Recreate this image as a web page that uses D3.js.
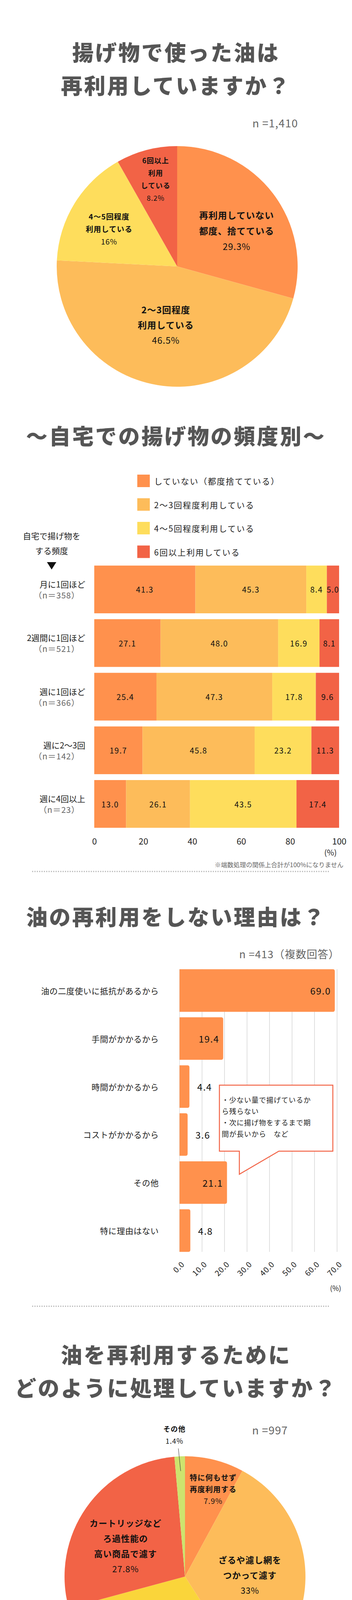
<!DOCTYPE html>
<html><head><meta charset="utf-8">
<script src="https://cdn.jsdelivr.net/npm/d3@7"></script>
<style>body{margin:0;background:#fff}svg{display:block;font-family:"Noto Sans CJK JP","Noto Sans",sans-serif}</style>
</head><body><svg id="c1" width="900" height="4400"></svg><svg id="c2" width="900" height="3600"></svg>
<script>
// ---- data ----
const pie1Labels = [["再利用していない","都度、捨てている"],["2～3回程度","利用している"],["4～5回程度","利用している"],["6回以上","利用","している"]];
const pie1Values = [29.3, 46.5, 16, 8.2];
const pie1Pct = ["29.3%","46.5%","16%","8.2%"];

const freqCats = ["月に1回ほど","2週間に1回ほど","週に1回ほど","週に2～3回","週に4回以上"];
const freqN = ["（n＝358）","（n＝521）","（n＝366）","（n＝142）","（n＝23）"];
const freqSeries = ["していない（都度捨てている）","2～3回程度利用している","4～5回程度利用している","6回以上利用している"];
const freqNone = [41.3, 27.1, 25.4, 19.7, 13.0];
const freq23 = [45.3, 48.0, 47.3, 45.8, 26.1];
const freq45 = [8.4, 16.9, 17.8, 23.2, 43.5];
const freq6 = [5.0, 8.1, 9.6, 11.3, 17.4];
const freqTicks = [0,20,40,60,80,100];

const reasonCats = ["油の二度使いに抵抗があるから","手間がかかるから","時間がかかるから","コストがかかるから","その他","特に理由はない"];
const reasonVals = [69.0, 19.4, 4.4, 3.6, 21.1, 4.8];
const reasonTicks = [0,10,20,30,40,50,60,70];
const reasonNote = ["・少ない量で揚げているか","ら残らない","・次に揚げ物をするまで期","間が長いから　など"];

const pie2Labels = [["特に何もせず","再度利用する"],["ざるや濾し網を","つかって濾す"],["キッチンペーパーや","油こし紙を使って濾す"],["カートリッジなど","ろ過性能の","高い商品で濾す"],["その他"]];
const pie2Values = [7.9, 33, 29.9, 27.8, 1.4];
const pie2Pct = ["7.9%","33%","29.9%","27.8%","1.4%"];

const pie3Labels = [["とても","時間が","かかっている"],["まぁまぁ時間が","かかっている"],["あまり時間が","かかっていない"],["まったく時間が","かかっていない"]];
const pie3Values = [9, 60.6, 26.7, 3.6];
const pie3Pct = ["9%","60.6%","26.7%","3.6%"];

const dissCats = ["油の酸化が気になる","油の濁りや汚れが気になる","油の臭いが気になる","油を濾す手間がかかる","油を濾す時間がかかる","油を濾すコストがかかる","特にない","その他"];
const dissVals = [73.0, 55.9, 38.8, 22.7, 14.1, 10.9, 7.6, 1.4];
const dissTicks = [0,20,40,60,80];

const troubleCats = ["キッチンが油で汚れること","揚げ物をした後の油の処理が面倒","揚げ物の臭いが気になること","食用油が値上がりしていること","揚げる手間が面倒","特にない","その他"];
const troubleVals = [81.0, 48.4, 45.0, 43.2, 22.6, 3.2, 2.3];
const troubleTicks = [0,20,40,60,80,100];

// ---- styles ----
const ORANGE="#FF914D", LORANGE="#FDBC5A", YELLOW="#FEDD5C", YELLOW2="#FAD53A", RED="#F26346", GREEN="#CDE36E";
let svg = d3.select("#c1").append("g");

function title(lines, ys){
  lines.forEach((t,i)=>svg.append("text").attr("x",450).attr("y",ys[i]).attr("text-anchor","middle")
    .attr("dominant-baseline","central").attr("font-size",55).attr("font-weight",900)
    .attr("letter-spacing",4).attr("fill","#555").text(t));
}
function nText(t, x, y, size){
  svg.append("text").attr("x",x).attr("y",y).attr("text-anchor","end").attr("dominant-baseline","central")
    .attr("font-size",size||27).attr("fill","#666").attr("letter-spacing",1).text(t);
}
function dotted(y){
  svg.append("line").attr("x1",82).attr("x2",842).attr("y1",y).attr("y2",y)
    .attr("stroke","#bbb").attr("stroke-width",3).attr("stroke-dasharray","3 3");
}
function multi(x,y,lines,pct,size,lh){
  const g = svg.append("g");
  lines.forEach((t,i)=>g.append("text").attr("x",x).attr("y",y+i*lh).attr("text-anchor","middle")
    .attr("dominant-baseline","central").attr("font-size",size).attr("font-weight",700).attr("letter-spacing",1).attr("fill","#111").text(t));
  g.append("text").attr("x",x).attr("y",y+lines.length*lh).attr("text-anchor","middle")
    .attr("dominant-baseline","central").attr("font-size",size).attr("fill","#111").attr("letter-spacing",1).text(pct);
}
function drawPie(cx,cy,r,vals,colors){
  const arcs = d3.pie().sort(null)(vals);
  const arc = d3.arc().innerRadius(0).outerRadius(r);
  svg.append("g").attr("transform",`translate(${cx},${cy})`).selectAll("path").data(arcs).join("path")
    .attr("d",arc).attr("fill",(d,i)=>colors[i]);
}
function hbars(cats,vals,x,y,labelX,fs,thr,outOff){
  cats.forEach((c,i)=>{
    const v=vals[i], x0=x(0), x1=x(v), by=y(c), h=y.bandwidth(), r=5;
    svg.append("path").attr("d",`M${x0},${by} H${x1-r} Q${x1},${by} ${x1},${by+r} V${by+h-r} Q${x1},${by+h} ${x1-r},${by+h} H${x0} Z`).attr("fill",ORANGE);
    const inside=v>=thr;
    svg.append("text").attr("x",inside?x1-10:x1+outOff).attr("y",by+h/2).attr("text-anchor",inside?"end":"start")
      .attr("dominant-baseline","central").attr("font-size",fs).attr("letter-spacing",1.5).attr("fill","#111").text(v.toFixed(1));
    svg.append("text").attr("x",labelX).attr("y",by+h/2).attr("text-anchor","end").attr("dominant-baseline","central")
      .attr("font-size",21).attr("letter-spacing",0.5).attr("fill","#222").text(c);
  });
}
function rotTicks(scale,ticks,y,fs){
  const g=svg.append("g");
  ticks.forEach(t=>g.append("text").attr("transform",`translate(${scale(t)+8},${y}) rotate(-45)`).attr("text-anchor","end")
    .attr("dominant-baseline","central").attr("font-size",fs).attr("fill","#222").attr("letter-spacing",1).text(t.toFixed(1)));
}

// ===== 1. pie =====
title(["揚げ物で使った油は","再利用していますか？"],[131,216]);
nText("n =1,410",762,314,28);
drawPie(453,682,308,pie1Values,[ORANGE,LORANGE,YELLOW,RED]);
const p1pos=[[605,550,40,23],[424,792,39,23],[279,553,32,19],[398,410,32,18]];
pie1Labels.forEach((l,i)=>multi(p1pos[i][0],p1pos[i][1],l,pie1Pct[i],p1pos[i][3],p1pos[i][2]));

// ===== 2. stacked bars =====
title(["～自宅での揚げ物の頻度別～"],[1113]);
const fColors=[ORANGE,LORANGE,YELLOW,RED];
freqSeries.forEach((s,i)=>{
  const y=1231+i*60.5;
  svg.append("rect").attr("x",351).attr("y",y-16).attr("width",32).attr("height",32).attr("fill",fColors[i]);
  svg.append("text").attr("x",394).attr("y",y).attr("dominant-baseline","central").attr("font-size",21).attr("letter-spacing",2).attr("fill","#222").text(s);
});
svg.append("text").attr("x",132).attr("y",1371).attr("text-anchor","middle").attr("dominant-baseline","central").attr("font-size",21).attr("fill","#222").text("自宅で揚げ物を");
svg.append("text").attr("x",132).attr("y",1409).attr("text-anchor","middle").attr("dominant-baseline","central").attr("font-size",21).attr("fill","#222").text("する頻度");
svg.append("path").attr("d","M120,1439 L144,1439 L132,1458 Z").attr("fill","#111");
const fx=d3.scaleLinear().domain([0,100]).range([241,867]);
const fy=d3.scaleBand().domain(freqCats).range([1441,2126]).paddingInner(0.11).paddingOuter(0.05);
const stackData=freqCats.map((c,i)=>({cat:c,a:freqNone[i],b:freq23[i],c:freq45[i],d:freq6[i]}));
const stack=d3.stack().keys(["a","b","c","d"])(stackData);
stack.forEach((layer,k)=>{
  const g=svg.append("g");
  layer.forEach((d,i)=>{
    const cat=freqCats[i];
    g.append("rect").attr("x",fx(d[0])).attr("y",fy(cat)).attr("width",fx(Math.min(d[1],100))-fx(d[0])).attr("height",fy.bandwidth()).attr("fill",fColors[k]);
    g.append("text").attr("x",(fx(d[0])+fx(d[1]))/2).attr("y",fy(cat)+fy.bandwidth()/2).attr("text-anchor","middle")
      .attr("dominant-baseline","central").attr("font-size",20).attr("letter-spacing",1.5).attr("fill","#111").text((d[1]-d[0]).toFixed(1));
  });
});
freqCats.forEach((c,i)=>{
  const y=fy(c)+fy.bandwidth()/2;
  svg.append("text").attr("x",218).attr("y",y-14).attr("text-anchor","end").attr("dominant-baseline","central").attr("font-size",21).attr("fill","#222").text(c);
  svg.append("text").attr("x",204).attr("y",y+14).attr("text-anchor","end").attr("dominant-baseline","central").attr("font-size",21).attr("fill","#666").attr("letter-spacing",1).text(freqN[i]);
});
const fAxis=svg.append("g").attr("transform","translate(0,2128)").call(d3.axisBottom(fx).tickValues(freqTicks).tickSize(0).tickPadding(18));
fAxis.select(".domain").remove();
fAxis.selectAll("text").attr("font-size",22).attr("fill","#222").attr("font-family","'Noto Sans CJK JP'");
svg.append("text").attr("x",845).attr("y",2181).attr("text-anchor","middle").attr("dominant-baseline","central").attr("font-size",20).attr("fill","#222").text("(%)");
svg.append("text").attr("x",878).attr("y",2213).attr("text-anchor","end").attr("dominant-baseline","central").attr("font-size",16).attr("fill","#666").text("※端数処理の関係上合計が100%になりません");
dotted(2231);

// ===== 3. reasons =====
title(["油の再利用をしない理由は？"],[2344]);
nText("n =413（複数回答）",868,2441,27);
const rx=d3.scaleLinear().domain([0,69]).range([459,856]);
const ry=d3.scaleBand().domain(reasonCats).range([2474,3212]).paddingInner(0.115).paddingOuter(0.06);
const rBot=ry(reasonCats[5])+ry.bandwidth();
svg.append("g").selectAll("line").data(reasonTicks.slice(1)).join("line").attr("x1",d=>rx(d)).attr("x2",d=>rx(d))
  .attr("y1",ry(reasonCats[0])).attr("y2",rBot).attr("stroke","#d6d6d6").attr("stroke-width",1.5);
svg.append("line").attr("x1",rx(0)).attr("x2",rx(0)).attr("y1",ry(reasonCats[0])).attr("y2",rBot).attr("stroke","#ccc");
hbars(reasonCats,reasonVals,rx,ry,406,24,10,20);
rotTicks(rx,reasonTicks,3232,20);
svg.append("text").attr("x",858).attr("y",3297).attr("text-anchor","middle").attr("dominant-baseline","central").attr("font-size",18).attr("fill","#222").text("(%)");
svg.append("path").attr("d","M561,2778 H851 V2947 H713 L612,3006 V2947 H561 Z").attr("fill","#fff").attr("stroke",RED).attr("stroke-width",2.5);
reasonNote.forEach((t,i)=>svg.append("text").attr("x",567).attr("y",2815+i*29).attr("dominant-baseline","central").attr("font-size",18).attr("letter-spacing",1).attr("fill","#222").text(t));
dotted(3344);

// ===== 4. pie 2 =====
title(["油を再利用するために","どのように処理していますか？"],[3465,3550]);
nText("n =997",736,3660,28);
drawPie(473,4036,308,pie2Values,[ORANGE,LORANGE,YELLOW2,RED,GREEN]);
multi(545,3781,pie2Labels[0],pie2Pct[0],19,30);
multi(639,3992,pie2Labels[1],pie2Pct[1],22,39);
multi(391,4154,pie2Labels[2],pie2Pct[2],22,39);
multi(321,3898,pie2Labels[3],pie2Pct[3],22,39);
multi(446,3657,pie2Labels[4],pie2Pct[4],18,31);
svg.append("line").attr("x1",456).attr("y1",3708).attr("x2",462).attr("y2",3766).attr("stroke","#333");

// ---- second canvas (page y 4400..8000) ----
svg = d3.select("#c2").append("g").attr("transform","translate(0,-4400)");
dotted(4425);

// ===== 5. pie 3 =====
title(["カートリッジで油をろ過する","時間をどう感じますか？"],[4548,4630]);
nText("n =227",741,4738,28);
drawPie(488,5146,309,pie3Values,[ORANGE,LORANGE,YELLOW2,RED]);
multi(554,4879,pie3Labels[0],pie3Pct[0],19,31);
multi(565,5207,pie3Labels[1],pie3Pct[1],22,39);
multi(331,5016,pie3Labels[2],pie3Pct[2],22,39);
multi(430,4734,pie3Labels[3],pie3Pct[3],18,31);
svg.append("line").attr("x1",444).attr("y1",4810).attr("x2",451).attr("y2",4867).attr("stroke","#333");
dotted(5530);

// ===== 6. dissatisfaction =====
title(["油の再利用で気になること","不満に感じることは？"],[5650,5734]);
nText("n =997（複数回答）",868,5833,27);
const dx=d3.scaleLinear().domain([0,80]).range([428,870]);
const dy=d3.scaleBand().domain(dissCats).range([5910,6648]).paddingInner(0.13).paddingOuter(0.07);
const dBot=dy(dissCats[7])+dy.bandwidth();
svg.append("g").selectAll("line").data(dissTicks.slice(1,4)).join("line").attr("x1",d=>dx(d)).attr("x2",d=>dx(d))
  .attr("y1",dy(dissCats[0])).attr("y2",dBot).attr("stroke","#d6d6d6").attr("stroke-width",1.5);
svg.append("line").attr("x1",dx(0)).attr("x2",dx(0)).attr("y1",dy(dissCats[0])).attr("y2",dBot).attr("stroke","#ccc");
hbars(dissCats,dissVals,dx,dy,364,21,10,16);
const dAxis=svg.append("g").attr("transform",`translate(0,${dBot})`).call(d3.axisBottom(dx).tickValues(dissTicks).tickFormat(d3.format(".1f")).tickSize(0).tickPadding(16));
dAxis.select(".domain").remove();
dAxis.selectAll("text").attr("font-size",21).attr("letter-spacing",1).attr("fill","#222").attr("font-family","'Noto Sans CJK JP'");
svg.append("text").attr("x",850).attr("y",6707).attr("text-anchor","middle").attr("dominant-baseline","central").attr("font-size",17).attr("fill","#222").text("(%)");
dotted(6774);

// ===== 7. troubles =====
title(["自宅で揚げ物をする時の","お困りごとは？"],[6888,6972]);
nText("n =1,410（複数回答）",868,7060,27);
const tx=d3.scaleLinear().domain([0,100]).range([514,866]);
const ty=d3.scaleBand().domain(troubleCats).range([7129,7868]).paddingInner(0.13).paddingOuter(0.07);
const tBot=ty(troubleCats[6])+ty.bandwidth();
svg.append("g").selectAll("line").data(troubleTicks.slice(1,5)).join("line").attr("x1",d=>tx(d)).attr("x2",d=>tx(d))
  .attr("y1",ty(troubleCats[0])).attr("y2",tBot).attr("stroke","#d6d6d6").attr("stroke-width",1.5);
svg.append("line").attr("x1",tx(0)).attr("x2",tx(0)).attr("y1",ty(troubleCats[0])).attr("y2",tBot).attr("stroke","#ccc");
hbars(troubleCats,troubleVals,tx,ty,450,21,10,10);
rotTicks(tx,troubleTicks,7890,20);
svg.append("text").attr("x",850).attr("y",7962).attr("text-anchor","middle").attr("dominant-baseline","central").attr("font-size",18).attr("fill","#222").text("(%)");
</script></body></html>
